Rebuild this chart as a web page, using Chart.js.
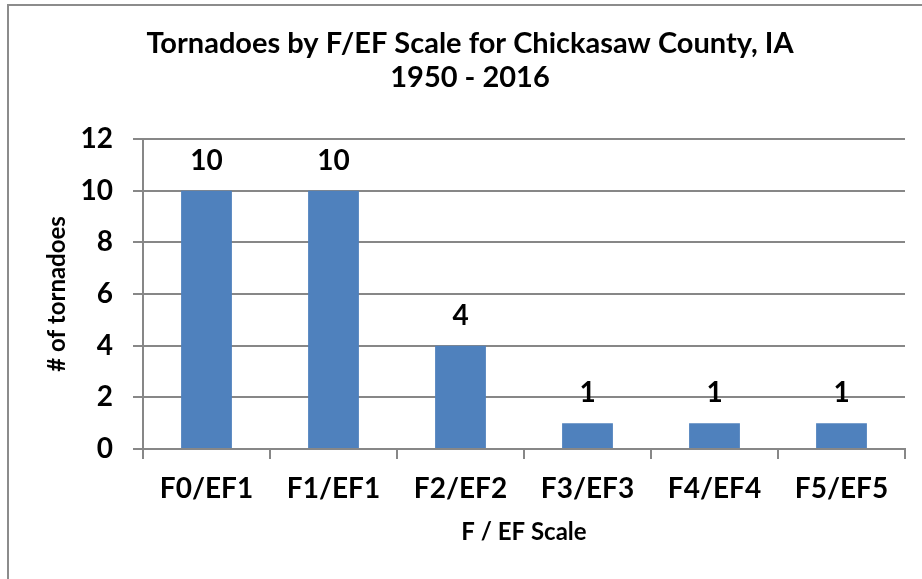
<!DOCTYPE html>
<html>
<head>
<meta charset="utf-8">
<script src="https://cdn.jsdelivr.net/npm/chart.js@4/dist/chart.umd.min.js"></script>
<style>
  html, body { margin: 0; padding: 0; background: #fff; overflow: hidden; }
  #wrap { position: relative; width: 922px; height: 579px; }
  #frame { position: absolute; left: 7px; top: 4px; width: 1000px; height: 1000px; border: 2px solid #8c8c8c; box-sizing: border-box; }
  canvas { position: absolute; left: 0; top: 0; }
</style>
</head>
<body>
<div id="wrap">
  <div id="frame"></div>
  <canvas id="c" width="922" height="579"></canvas>
</div>
<script>
const categories = ['F0/EF1', 'F1/EF1', 'F2/EF2', 'F3/EF3', 'F4/EF4', 'F5/EF5'];
const tornadoCounts = [10, 10, 4, 1, 1, 1];
const titleLines = ['Tornadoes by F/EF Scale for Chickasaw County, IA', '1950 - 2016'];
const yAxisTitle = '# of tornadoes';
const xAxisTitle = 'F / EF Scale';

const FONT = 'Lato';
const GRID = '#878787';

const valueLabels = {
  id: 'valueLabels',
  afterDatasetsDraw(chart) {
    const ctx = chart.ctx;
    const meta = chart.getDatasetMeta(0);
    ctx.save();
    ctx.font = 'bold 28px ' + FONT;
    ctx.fillStyle = '#000';
    ctx.textAlign = 'center';
    ctx.textBaseline = 'middle';
    meta.data.forEach((bar, i) => {
      ctx.fillText(String(chart.data.datasets[0].data[i]), bar.x, bar.y - 30);
    });
    ctx.restore();
  }
};

new Chart(document.getElementById('c'), {
  type: 'bar',
  data: {
    labels: categories,
    datasets: [{
      data: tornadoCounts,
      backgroundColor: '#4F81BD',
      borderWidth: 0,
      barPercentage: 0.40,
      categoryPercentage: 1.0
    }]
  },
  options: {
    responsive: false,
    animation: false,
    devicePixelRatio: 1,
    layout: { padding: { left: 35, right: 17, top: 0, bottom: 0 } },
    plugins: {
      legend: { display: false },
      tooltip: { enabled: false },
      title: {
        display: true,
        text: titleLines,
        color: '#000',
        font: { family: FONT, size: 29, weight: 'bold', lineHeight: 1.155 },
        padding: { top: 27, bottom: 45 }
      }
    },
    scales: {
      x: {
        afterFit(scale) { scale.height = 130; },
        grid: { drawOnChartArea: false, drawTicks: true, tickLength: 10, color: GRID, lineWidth: 2 },
        border: { color: GRID, width: 2 },
        ticks: { color: '#000', font: { family: FONT, size: 28, weight: 'bold' }, padding: 13, maxRotation: 0 },
        title: { display: true, text: xAxisTitle, color: '#000', font: { family: FONT, size: 24, weight: 'bold' }, padding: 32 }
      },
      y: {
        min: 0, max: 12,
        afterFit(scale) { scale.width = 108; },
        grid: { drawTicks: true, tickLength: 10, color: GRID, lineWidth: 2 },
        border: { color: GRID, width: 2 },
        ticks: { stepSize: 2, color: '#000', font: { family: FONT, size: 28, weight: 'bold' }, padding: 20 },
        title: { display: true, text: yAxisTitle, color: '#000', font: { family: FONT, size: 24, weight: 'bold' }, padding: 8 }
      }
    }
  },
  plugins: [valueLabels]
});
</script>
</body>
</html>
